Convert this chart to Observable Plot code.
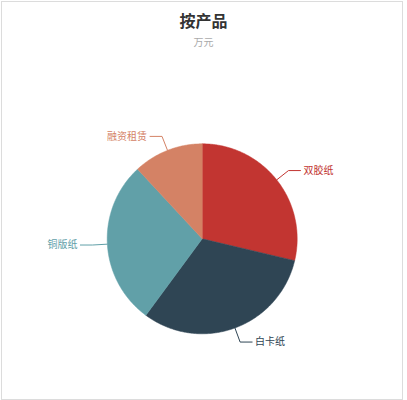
<!DOCTYPE html>
<html><head><meta charset="utf-8">
<script src="https://cdn.jsdelivr.net/npm/d3@7"></script>
<script src="https://cdn.jsdelivr.net/npm/@observablehq/plot@0.6"></script>
<style>
body{margin:0;background:#fff;font-family:"Noto Sans CJK SC","Noto Sans",sans-serif;}
#wrap{position:relative;width:407px;height:400px;overflow:hidden;}
#frame{position:absolute;left:1px;top:1px;width:402px;height:399px;box-sizing:border-box;border:1px solid #dcdcdc;pointer-events:none;}
#head{height:55px;position:relative;}
#title{position:absolute;top:10px;left:0;width:407px;text-align:center;font-size:16px;font-weight:bold;color:#333;line-height:20px;}
#sub{position:absolute;top:36px;left:0;width:407px;text-align:center;font-size:10px;color:#aaa;line-height:12px;}
#chart svg{display:block;}
</style></head>
<body>
<div id="wrap">
  <div id="head"><div id="title">按产品</div><div id="sub">万元</div></div>
  <div id="chart"></div>
  <div id="frame"></div>
</div>
<script>
const categories = ["双胶纸", "白卡纸", "铜版纸", "融资租赁"];
const values = [28.7, 31.4, 28.0, 11.9];
const colors = ["#c23531", "#2f4554", "#61a0a8", "#d48265"];

const W = 407, H = 345, R = 95, cx = 201.7, cy = 183.3;
const L1 = 15 / R, L2 = 12 / R;

const arcs = d3.pie().sort(null).value(d => d.value)(
  categories.map((name, i) => ({name, value: values[i]}))
);

const slicePts = [];
const leaderPts = [];
const labels = [];
for (const a of arcs) {
  const name = a.data.name;
  const n = Math.max(2, Math.ceil((a.endAngle - a.startAngle) / 0.01));
  slicePts.push({name, x: 0, y: 0});
  for (let k = 0; k <= n; k++) {
    const t = a.startAngle + (a.endAngle - a.startAngle) * k / n;
    slicePts.push({name, x: Math.sin(t), y: -Math.cos(t)});
  }
  slicePts.push({name, x: 0, y: 0});
  const m = (a.startAngle + a.endAngle) / 2;
  const sx = Math.sin(m), sy = -Math.cos(m);
  const side = sx >= 0 ? 1 : -1;
  const e = 1 + L1;
  leaderPts.push({name, x: sx, y: sy});
  leaderPts.push({name, x: sx * e, y: sy * e});
  leaderPts.push({name, x: sx * e + side * L2, y: sy * e});
  labels.push({name, x: sx * e + side * L2, y: sy * e, anchor: side > 0 ? "start" : "end"});
}

const chart = Plot.plot({
  width: W,
  height: H,
  margin: 0,
  x: {axis: null, domain: [-cx / R, (W - cx) / R], range: [0, W]},
  y: {axis: null, domain: [-cy / R, (H - cy) / R], range: [0, H]},
  color: {domain: categories, range: colors},
  style: {fontFamily: '"Noto Sans CJK SC", sans-serif', background: "transparent"},
  marks: [
    Plot.line(slicePts, {x: "x", y: "y", z: "name", fill: "name", stroke: "name", strokeWidth: 0.5, curve: "linear"}),
    Plot.line(leaderPts, {x: "x", y: "y", z: "name", stroke: "name", strokeWidth: 1, curve: "linear"}),
    Plot.text(labels.filter(d => d.anchor === "start"), {x: "x", y: "y", text: "name", fill: "name", textAnchor: "start", dx: 3, fontSize: 10}),
    Plot.text(labels.filter(d => d.anchor === "end"), {x: "x", y: "y", text: "name", fill: "name", textAnchor: "end", dx: -3, fontSize: 10})
  ]
});
document.getElementById("chart").appendChild(chart);
</script>
</body></html>
